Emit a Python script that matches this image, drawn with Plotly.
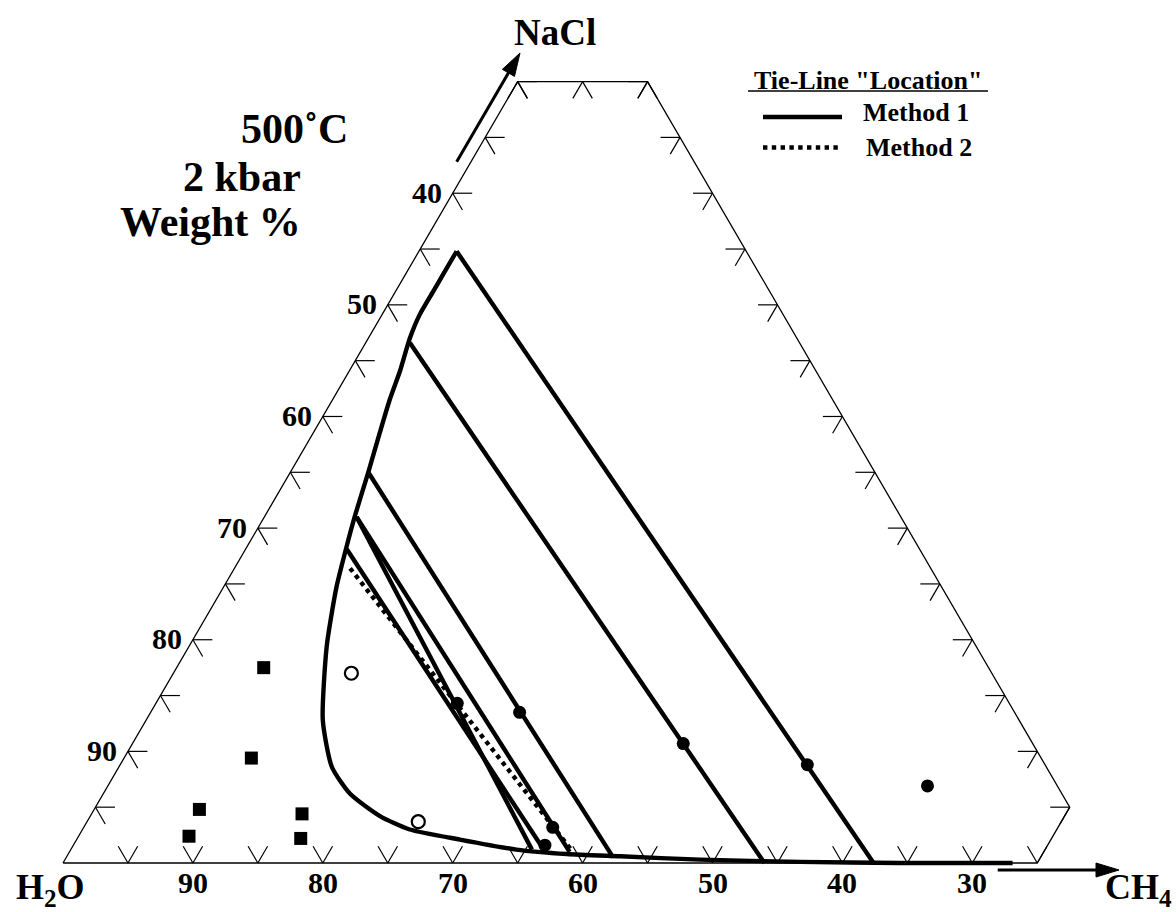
import math
import plotly.graph_objects as go

# ---------------- data (weight %) ----------------
# pentagon frame of the truncated ternary diagram
frame_h2o = [100, 30, 20, 20, 25, 100]
frame_ch4 = [0, 0, 10, 75, 75, 0]
frame_nacl = [0, 70, 70, 5, 0, 0]

# two-phase field boundary (solvus)
curve_h2o = [42.3, 44.4, 45.9, 48.0, 49.8, 52.0, 54.1, 56.3, 59.0, 61.9, 64.1, 66.6, 70.0,
             73.6, 75.0, 74.8, 73.5, 71.8, 68.4, 64.5, 60.8, 56.8, 50.8, 43.2, 35.6, 26.9]
curve_ch4 = [2.9, 2.9, 2.9, 2.9, 3.2, 3.9, 4.4, 5.1, 6.0, 6.9, 7.7, 8.7, 10.6,
             13.6, 16.4, 19.0, 22.3, 25.2, 29.5, 34.3, 38.4, 42.6, 48.9, 56.7, 64.4, 73.1]
curve_nacl = [54.8, 52.7, 51.2, 49.1, 47.0, 44.1, 41.5, 38.6, 35.0, 31.2, 28.2, 24.7, 19.4,
              12.8, 8.6, 6.2, 4.2, 3.0, 2.1, 1.2, 0.8, 0.6, 0.3, 0.1, 0.0, 0.0]

# tie-lines, Method 1 (liquid end -> vapour end)
m1_liq_h2o = [42.3, 50.0, 59.0, 61.9, 61.9, 64.1]
m1_liq_ch4 = [2.9, 3.4, 6.0, 7.1, 7.1, 7.8]
m1_liq_nacl = [54.8, 46.6, 35.0, 31.0, 31.0, 28.1]
m1_vap_h2o = [37.6, 46.0, 57.4, 63.3, 60.5, 62.4]
m1_vap_ch4 = [62.4, 54.0, 42.1, 35.5, 38.5, 36.3]
m1_vap_nacl = [0.0, 0.0, 0.5, 1.2, 1.0, 1.3]

# tie-line, Method 2
m2_liq_h2o = [64.7]
m2_liq_ch4 = [8.9]
m2_liq_nacl = [26.4]
m2_vap_h2o = [60.3]
m2_vap_ch4 = [38.4]
m2_vap_nacl = [1.3]

# filled circles (bulk compositions)
fc_h2o = [38.3, 46.9, 58.1, 62.5, 60.7, 62.1, 30.0]
fc_ch4 = [52.9, 42.4, 28.4, 23.2, 36.1, 36.3, 63.1]
fc_nacl = [8.8, 10.7, 13.5, 14.3, 3.2, 1.6, 6.9]

# open circles
oc_h2o = [69.3, 70.8]
oc_ch4 = [13.7, 25.5]
oc_nacl = [17.0, 3.7]

# filled squares
sq_h2o = [75.8, 80.8, 87.1, 89.1, 79.4, 80.6]
sq_ch4 = [6.7, 9.8, 8.1, 8.5, 16.2, 17.2]
sq_nacl = [17.5, 9.4, 4.8, 2.4, 4.4, 2.2]

# ticks along the edges
bottom_tick_h2o = [95, 90, 85, 80, 75, 70, 65, 60, 55, 50, 45, 40, 35, 30, 25]
left_tick_h2o = [95, 90, 85, 80, 75, 70, 65, 60, 55, 50, 45, 40, 35, 30]
top_tick_ch4 = [0, 5, 10]
right_tick_nacl = [70, 65, 60, 55, 50, 45, 40, 35, 30, 25, 20, 15, 10, 5]
bottom_labels = [90, 80, 70, 60, 50, 40, 30]
left_labels = [40, 50, 60, 70, 80, 90]

# ---------------- helpers ----------------
S3 = math.sqrt(3) / 2
W, H = 1176, 912


def to_xy(ch4, nacl):
    return ch4 + nacl / 2.0, nacl * S3


def xy_lists(ch4s, nacls):
    xs, ys = [], []
    for c, n in zip(ch4s, nacls):
        x, y = to_xy(c, n)
        xs.append(x)
        ys.append(y)
    return xs, ys


def P(px, py):
    return px / W, 1 - py / H


FONT = "Liberation Serif, Times New Roman, serif"
BLACK = "#000000"
TL = 1.5  # tick arm length (wt %)

fig = go.Figure()

# frame
fx, fy = xy_lists(frame_ch4, frame_nacl)
fig.add_trace(go.Scatter(x=fx, y=fy, mode="lines", line=dict(color=BLACK, width=1.3),
                         hoverinfo="skip"))

# ticks
tx, ty = [], []


def arm(c0, n0, c1, n1):
    x0, y0 = to_xy(c0, n0)
    x1, y1 = to_xy(c1, n1)
    tx.extend([x0, x1, None])
    ty.extend([y0, y1, None])


for h in bottom_tick_h2o:
    c, n = 100 - h, 0
    arm(c, n, c - TL, n + TL)   # constant H2O
    arm(c, n, c, n + TL)        # constant CH4
for h in left_tick_h2o:
    c, n = 0, 100 - h
    arm(c, n, c + TL, n)        # constant NaCl
    arm(c, n, c + TL, n - TL)   # constant H2O
for cc in top_tick_ch4:
    c, n = cc, 70
    arm(c, n, c + TL, n - TL)   # constant H2O
    arm(c, n, c, n - TL)        # constant CH4
for nn in right_tick_nacl:
    c, n = 80 - nn, nn
    arm(c, n, c - TL, n)        # constant NaCl
    arm(c, n, c, n - TL)        # constant CH4
fig.add_trace(go.Scatter(x=tx, y=ty, mode="lines", line=dict(color=BLACK, width=1.2),
                         hoverinfo="skip"))

# solvus curve
cx, cy = xy_lists(curve_ch4, curve_nacl)
fig.add_trace(go.Scatter(x=cx, y=cy, mode="lines",
                         line=dict(color=BLACK, width=4.4, shape="spline", smoothing=0.6),
                         hoverinfo="skip"))


def seg_lists(lc, ln, vc, vn):
    xs, ys = [], []
    for a, b, c, d in zip(lc, ln, vc, vn):
        x0, y0 = to_xy(a, b)
        x1, y1 = to_xy(c, d)
        xs.extend([x0, x1, None])
        ys.extend([y0, y1, None])
    return xs, ys


m1x, m1y = seg_lists(m1_liq_ch4, m1_liq_nacl, m1_vap_ch4, m1_vap_nacl)
fig.add_trace(go.Scatter(x=m1x, y=m1y, mode="lines", name="Method 1",
                         line=dict(color=BLACK, width=4.4), hoverinfo="skip"))
m2x, m2y = seg_lists(m2_liq_ch4, m2_liq_nacl, m2_vap_ch4, m2_vap_nacl)
fig.add_trace(go.Scatter(x=m2x, y=m2y, mode="lines", name="Method 2",
                         line=dict(color=BLACK, width=4.4, dash="dot"), hoverinfo="skip"))

# markers
sx, sy = xy_lists(sq_ch4, sq_nacl)
fig.add_trace(go.Scatter(x=sx, y=sy, mode="markers",
                         marker=dict(symbol="square", size=13, color=BLACK)))
ox, oy = xy_lists(oc_ch4, oc_nacl)
fig.add_trace(go.Scatter(x=ox, y=oy, mode="markers",
                         marker=dict(symbol="circle", size=13, color="white",
                                     line=dict(color=BLACK, width=2.2))))
bx, by = xy_lists(fc_ch4, fc_nacl)
fig.add_trace(go.Scatter(x=bx, y=by, mode="markers",
                         marker=dict(symbol="circle", size=13, color=BLACK)))

annotations = []
for v in bottom_labels:
    x, y = to_xy(100 - v, 0)
    annotations.append(dict(x=x, y=y, xref="x", yref="y", text=str(v), showarrow=False,
                            yshift=-19, font=dict(family=FONT, size=30, color=BLACK,
                                                  weight="bold")))
for v in left_labels:
    x, y = to_xy(0, 100 - v)
    annotations.append(dict(x=x, y=y, xref="x", yref="y", text=str(v), showarrow=False,
                            xshift=-26, yshift=1, font=dict(family=FONT, size=30, color=BLACK,
                                                            weight="bold")))


def txt(px, py, text, size, xanchor="center"):
    x, y = P(px, py)
    annotations.append(dict(x=x, y=y, xref="paper", yref="paper", text=text,
                            showarrow=False, xanchor=xanchor, yanchor="middle",
                            font=dict(family=FONT, size=size, color=BLACK, weight="bold")))


txt(555, 32, "NaCl", 37)
txt(50, 889, "H<sub>2</sub>O", 36)
txt(1138, 889, "CH<sub>4</sub>", 36)
txt(350, 129, "500˚C", 42, "right")
txt(303, 177, "2 kbar", 42, "right")
txt(303, 222, "Weight %", 42, "right")
txt(868, 81, "Tie-Line \"Location\"", 26)
txt(861, 113, "Method 1", 26, "left")
txt(864, 148, "Method 2", 26, "left")

shapes = []


def pline(p0, p1, width, dash="solid"):
    x0, y0 = P(*p0)
    x1, y1 = P(*p1)
    shapes.append(dict(type="line", xref="paper", yref="paper", x0=x0, y0=y0, x1=x1, y1=y1,
                       line=dict(color=BLACK, width=width, dash=dash)))


def arrow(tail, tip, hl=23, hw=7, width=3):
    dx, dy = tip[0] - tail[0], tip[1] - tail[1]
    ln = math.hypot(dx, dy)
    ux, uy = dx / ln, dy / ln
    bxp, byp = tip[0] - hl * ux, tip[1] - hl * uy
    pline(tail, (bxp + ux, byp + uy), width)
    px_, py_ = -uy, ux
    pts = [tip, (bxp + hw * px_, byp + hw * py_), (bxp - hw * px_, byp - hw * py_)]
    path = "M " + " L ".join("%f,%f" % P(*p) for p in pts) + " Z"
    shapes.append(dict(type="path", xref="paper", yref="paper", path=path,
                       fillcolor=BLACK, line=dict(color=BLACK, width=1)))


arrow((456.7, 161.7), (520, 53))
arrow((997.7, 870), (1119, 870))

# legend decorations
pline((748, 91), (988, 91), 1.5)
pline((763, 117), (842, 117), 4.4)
pline((763, 147.5), (840, 147.5), 4.4, "dot")

X0 = 63.0
SX = 12.99
Y0 = 863.0
SY = 12.89

fig.update_layout(
    width=W, height=H, autosize=False,
    margin=dict(l=0, r=0, t=0, b=0, pad=0),
    paper_bgcolor="white", plot_bgcolor="white",
    showlegend=False,
    xaxis=dict(range=[-X0 / SX, (W - X0) / SX], visible=False, fixedrange=True),
    yaxis=dict(range=[(Y0 - H) / SY, Y0 / SY], visible=False, fixedrange=True),
    annotations=annotations,
    shapes=shapes,
)

fig.write_html("out.html")
